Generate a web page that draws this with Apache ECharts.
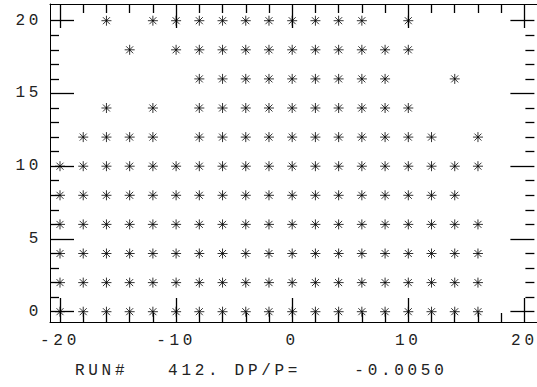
<!DOCTYPE html>
<html>
<head>
<meta charset="utf-8">
<script src="https://cdn.jsdelivr.net/npm/echarts@6/dist/echarts.min.js"></script>
<style>
  html, body { margin: 0; padding: 0; background: #fff; }
  #chart { width: 537px; height: 387px; }
  /* widen the lettering of every label, as on the old plotter output */
  #chart text { letter-spacing: 3.7px; }
</style>
</head>
<body>
<div id="chart"></div>
<script>
// Occupied cells: x positions present on each row y
const rowY = [0, 2, 4, 6, 8, 10, 12, 14, 16, 18, 20];
const xAtY0  = [-20, -18, -16, -14, -12, -10, -8, -6, -4, -2, 0, 2, 4, 6, 8, 10, 12, 14, 16];
const xAtY2  = [-20, -18, -16, -14, -12, -10, -8, -6, -4, -2, 0, 2, 4, 6, 8, 10, 12, 14, 16];
const xAtY4  = [-20, -18, -16, -14, -12, -10, -8, -6, -4, -2, 0, 2, 4, 6, 8, 10, 12, 14, 16];
const xAtY6  = [-20, -18, -16, -14, -12, -10, -8, -6, -4, -2, 0, 2, 4, 6, 8, 10, 12, 14, 16];
const xAtY8  = [-20, -18, -16, -14, -12, -10, -8, -6, -4, -2, 0, 2, 4, 6, 8, 10, 12, 14];
const xAtY10 = [-20, -18, -16, -14, -12, -10, -8, -6, -4, -2, 0, 2, 4, 6, 8, 10, 12, 14, 16];
const xAtY12 = [-18, -16, -14, -12, -8, -6, -4, -2, 0, 2, 4, 6, 8, 10, 12, 16];
const xAtY14 = [-16, -12, -8, -6, -4, -2, 0, 2, 4, 6, 8, 10];
const xAtY16 = [-8, -6, -4, -2, 0, 2, 4, 6, 8, 14];
const xAtY18 = [-14, -10, -8, -6, -4, -2, 0, 2, 4, 6, 8, 10];
const xAtY20 = [-16, -12, -10, -8, -6, -4, -2, 0, 2, 4, 6, 10];
const rowsX = [xAtY0, xAtY2, xAtY4, xAtY6, xAtY8, xAtY10, xAtY12, xAtY14, xAtY16, xAtY18, xAtY20];

// Axis ranges and tick steps
const xRange = [-20, 20];
const yRange = [0, 20];
const xMajor = 10, yMajor = 5;
const minorSplits = [5, 5];

const caption = 'RUN#   412. DP/P=    -0.0050';

const points = [];
rowY.forEach((y, i) => rowsX[i].forEach(x => points.push([x, y])));

const ink = '#000';
const font = { fontFamily: 'Liberation Mono', fontSize: 16, color: '#222' };
const asterisk = 'path://M5,0 L5,10 M0,5 L10,5 M1.5,1.5 L8.5,8.5 M1.5,8.5 L8.5,1.5';

const tickCfg = { show: true, inside: true, length: 24, lineStyle: { color: ink, width: 1.3 } };
const minorCfg = (n) => ({ show: true, splitNumber: n, length: 9, lineStyle: { color: ink, width: 1.3 } });
const noLine = { show: false, onZero: false };

// plain frame side: only the axis line is drawn
const frameSide = (gridIndex, position) => ({
  gridIndex, type: 'value', position, min: 0, max: 1,
  axisLine: { show: true, onZero: false, lineStyle: { color: ink, width: 1 } },
  axisTick: { show: false }, axisLabel: { show: false }, splitLine: { show: false }
});

const chart = echarts.init(document.getElementById('chart'), null, { renderer: 'svg' });
chart.setOption({
  animation: false,
  backgroundColor: '#fff',
  title: {
    text: caption,
    left: 75, top: 363, padding: 0,
    textStyle: Object.assign({ fontWeight: 'normal' }, font)
  },
  grid: [
    // outer frame
    { left: 50, top: 4, width: 490, height: 318 },
    // plotting area spanned by the data ranges
    { left: 60, top: 20.7, width: 470, height: 291 }
  ],
  xAxis: [
    frameSide(0, 'bottom'),
    frameSide(0, 'top'),
    {
      gridIndex: 1, type: 'value', position: 'bottom', offset: 10.3,
      min: xRange[0], max: xRange[1], interval: xMajor,
      axisLine: noLine, splitLine: { show: false },
      axisTick: tickCfg, minorTick: minorCfg(minorSplits[0]),
      axisLabel: Object.assign({ margin: 11 }, font)
    },
    {
      gridIndex: 1, type: 'value', position: 'top', offset: 16.7,
      min: xRange[0], max: xRange[1], interval: xMajor,
      axisLine: noLine, splitLine: { show: false },
      axisTick: tickCfg, minorTick: minorCfg(minorSplits[0]),
      axisLabel: { show: false }
    }
  ],
  yAxis: [
    frameSide(0, 'left'),
    frameSide(0, 'right'),
    {
      gridIndex: 1, type: 'value', position: 'left', offset: 10,
      min: yRange[0], max: yRange[1], interval: yMajor,
      axisLine: noLine, splitLine: { show: false },
      axisTick: tickCfg, minorTick: minorCfg(minorSplits[1]),
      axisLabel: Object.assign({ margin: 8 }, font)
    },
    {
      gridIndex: 1, type: 'value', position: 'right', offset: 10,
      min: yRange[0], max: yRange[1], interval: yMajor,
      axisLine: noLine, splitLine: { show: false },
      axisTick: tickCfg, minorTick: minorCfg(minorSplits[1]),
      axisLabel: { show: false }
    }
  ],
  series: [{
    type: 'scatter',
    xAxisIndex: 2, yAxisIndex: 2,
    data: points,
    clip: false,
    symbol: asterisk,
    symbolSize: [10, 10],
    itemStyle: { color: 'transparent', borderColor: ink, borderWidth: 1 },
    emphasis: { disabled: true }
  }]
});
</script>
</body>
</html>
